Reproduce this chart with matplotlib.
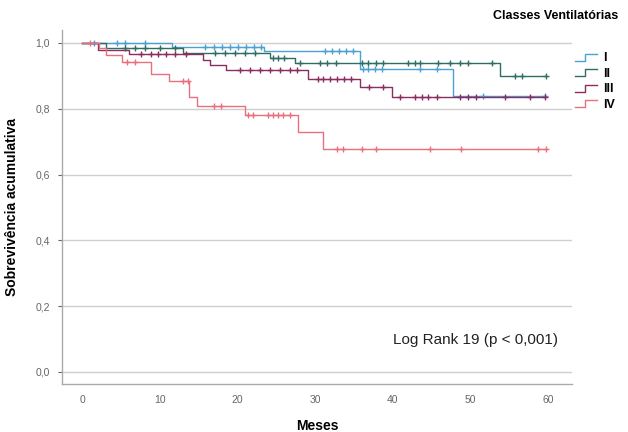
import matplotlib
matplotlib.use("Agg")
import matplotlib.pyplot as plt
import numpy as np
from matplotlib.legend_handler import HandlerBase
from matplotlib.lines import Line2D

plt.rcParams["font.family"] = ["Liberation Sans", "DejaVu Sans"]

# Kaplan-Meier curves: event times (months) and survival after each event
groups = ["I", "II", "III", "IV"]
colors = ["#4aa2d3", "#2f6e60", "#8c2d62", "#e8707e"]

times_i = [11.5, 23.4, 35.8, 47.7]
surv_i = [0.988, 0.975, 0.922, 0.839]
cens_i = [1.5, 4.5, 5.5, 8.1, 15.8, 16.9, 18.0, 19.0, 20.1, 21.1, 22.1, 23.0,
          31.3, 32.2, 33.1, 34.0, 34.9, 36.2, 36.8, 37.7, 38.6, 43.5, 45.7,
          51.6, 59.6]

times_ii = [3.0, 13.0, 24.2, 27.4, 53.8]
surv_ii = [0.985, 0.970, 0.955, 0.940, 0.900]
cens_ii = [5.5, 6.8, 8.1, 10.0, 12.0, 17.1, 18.4, 19.7, 21.0, 22.3, 24.5, 25.2,
           26.0, 28.1, 30.6, 31.5, 32.7, 36.0, 36.8, 37.8, 38.7, 42.0, 42.9,
           43.5, 45.8, 47.4, 48.6, 49.7, 52.8, 55.7, 56.6, 59.7]

times_iii = [2.0, 6.0, 15.5, 16.5, 18.5, 29.1, 35.8, 39.9]
surv_iii = [0.980, 0.966, 0.948, 0.932, 0.918, 0.890, 0.866, 0.836]
cens_iii = [7.5, 8.8, 9.8, 10.8, 12.0, 13.3, 20.3, 21.6, 22.9, 24.2, 25.5,
            26.8, 27.7, 30.4, 31.0, 31.9, 32.8, 33.7, 34.6, 36.9, 38.7, 40.9,
            42.9, 43.8, 44.5, 45.7, 48.6, 49.7, 50.7, 54.4, 57.7, 59.6]

times_iv = [2.2, 3.0, 5.1, 8.9, 11.1, 13.8, 14.8, 21.0, 27.8, 31.0]
surv_iv = [0.985, 0.963, 0.942, 0.906, 0.884, 0.836, 0.808, 0.781, 0.729, 0.678]
cens_iv = [1.0, 5.8, 6.8, 13.0, 13.6, 16.9, 17.8, 21.4, 22.0, 23.9, 24.6, 25.2,
           25.9, 26.8, 32.8, 33.6, 36.0, 37.8, 44.8, 48.8, 58.7, 59.8]

all_times = [times_i, times_ii, times_iii, times_iv]
all_surv = [surv_i, surv_ii, surv_iii, surv_iv]
all_cens = [cens_i, cens_ii, cens_iii, cens_iv]

x_ticks = [0, 10, 20, 30, 40, 50, 60]
y_ticks = [0.0, 0.2, 0.4, 0.6, 0.8, 1.0]


class StepHandler(HandlerBase):
    # small step-shaped line used as legend key
    def create_artists(self, legend, orig_handle, xdescent, ydescent,
                       width, height, fontsize, trans):
        xs = np.array([0, 0.45, 0.45, 1.0]) * width - xdescent
        ys = np.array([0.05, 0.05, 0.85, 0.85]) * height - ydescent
        line = Line2D(xs, ys, color=orig_handle.get_color(), lw=1.0)
        line.set_transform(trans)
        return [line]


fig = plt.figure(figsize=(6.28, 4.32), dpi=100)
ax = fig.add_axes([0.099, 0.111, 0.812, 0.82])

handles = []
for name, color, t, s, c in zip(groups, colors, all_times, all_surv, all_cens):
    t = np.array(t)
    s = np.array(s)
    end = max(c)
    tx = np.concatenate([[0.0], t, [end]])
    sy = np.concatenate([[1.0], s, [s[-1]]])
    (ln,) = ax.step(tx, sy, where="post", color=color, lw=1.0)
    # censored observations take the survival value at that time
    idx = np.searchsorted(t, c, side="right")
    cs = np.concatenate([[1.0], s])[idx]
    ax.plot(c, cs, "+", color=color, ms=5, mew=1.0, ls="none")
    handles.append(ln)

ax.set_xlim(-2.6, 63.1)
ax.set_ylim(-0.037, 1.04)
ax.set_xticks(x_ticks)
ax.set_yticks(y_ticks)
ax.set_yticklabels([f"{v:.1f}".replace(".", ",") for v in y_ticks])
ax.set_xticklabels([str(v) for v in x_ticks])
ax.tick_params(axis="both", colors="#666666", labelsize=7.5, length=3,
               width=0.8, pad=6)
ax.tick_params(axis="x", length=0, pad=8)

ax.grid(axis="y", color="#cfcfcf", lw=1.0)
ax.set_axisbelow(True)
for side in ["top", "right"]:
    ax.spines[side].set_visible(False)
for side in ["left", "bottom"]:
    ax.spines[side].set_color("#aaaaaa")
    ax.spines[side].set_linewidth(1.0)

ax.set_xlabel("Meses", fontsize=10, fontweight="bold", labelpad=10)
ax.set_ylabel("Sobrevivência acumulativa", fontsize=10, fontweight="bold",
              labelpad=12)

ax.text(50.6, 0.097, "Log Rank 19 (p < 0,001)", fontsize=11, ha="center",
        va="center", color="#222222")

fig.text(0.985, 0.963, "Classes Ventilatórias", ha="right", va="center",
         fontsize=9, fontweight="bold")
leg = fig.legend(handles, groups, handler_map={Line2D: StepHandler()},
                 loc="upper left", bbox_to_anchor=(0.897, 0.905),
                 frameon=False, fontsize=9, handlelength=1.8,
                 handletextpad=0.5, labelspacing=0.28)
for txt in leg.get_texts():
    txt.set_fontweight("bold")

fig.savefig("out.png", dpi=100)
